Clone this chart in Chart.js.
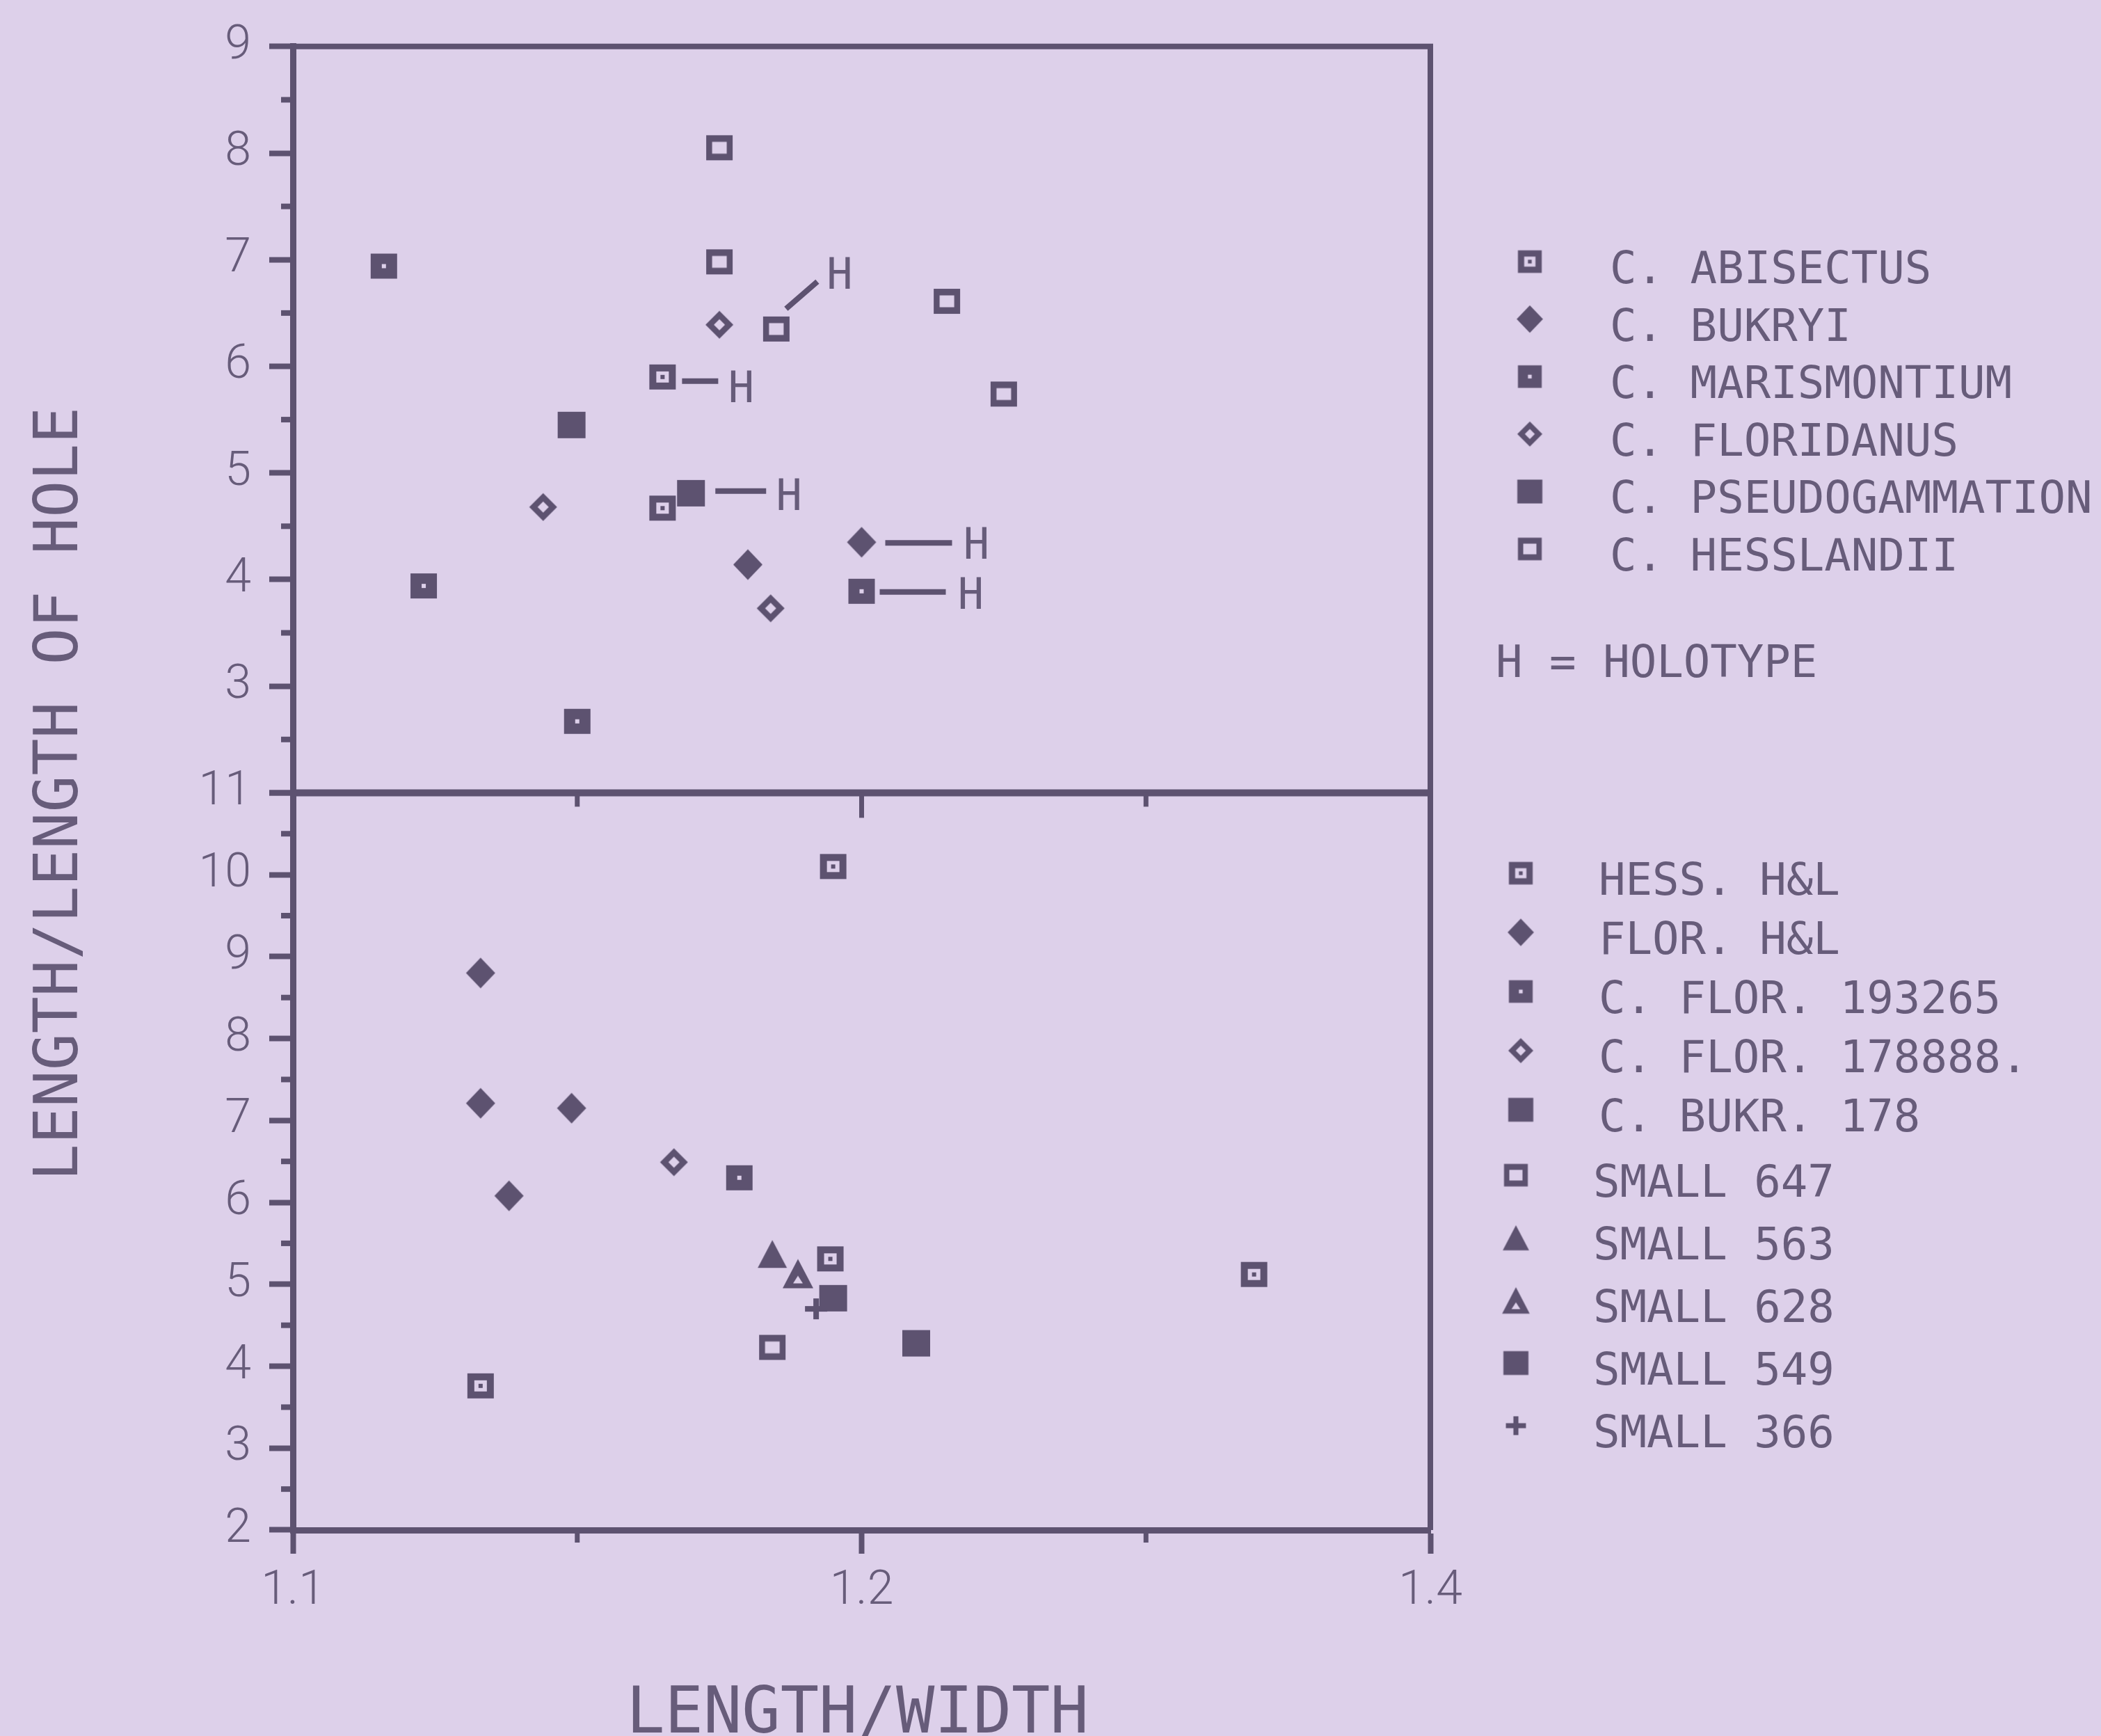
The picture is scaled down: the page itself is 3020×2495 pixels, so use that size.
<!DOCTYPE html>
<html>
<head>
<meta charset="utf-8">
<script src="https://cdn.jsdelivr.net/npm/chart.js@4.4.1/dist/chart.umd.min.js"></script>
<style>
  html, body { margin: 0; padding: 0; background: #ddd0ea; }
  canvas { display: block; }
</style>
</head>
<body>
<canvas id="plot" width="3020" height="2495"></canvas>
<script>
// ---- series names -------------------------------------------------------
const upperSpecies = ['C. ABISECTUS', 'C. BUKRYI', 'C. MARISMONTIUM',
                      'C. FLORIDANUS', 'C. PSEUDOGAMMATION', 'C. HESSLANDII'];
const lowerSamples = ['HESS. H&L', 'FLOR. H&L', 'C. FLOR. 193265', 'C. FLOR. 178888.',
                      'C. BUKR. 178', 'SMALL 647', 'SMALL 563', 'SMALL 628',
                      'SMALL 549', 'SMALL 366'];

// ---- values: [length/width, length/length of hole] -------------------------
// upper panel
const abisectus       = [[1.165, 5.90], [1.165, 4.67]];
const bukryi          = [[1.180, 4.14], [1.200, 4.35]];
const marismontium    = [[1.116, 6.94], [1.123, 3.94], [1.150, 2.67], [1.200, 3.89]];
const floridanus      = [[1.144, 4.68], [1.175, 6.39], [1.184, 3.73]];
const pseudogammation = [[1.149, 5.45], [1.170, 4.81]];
const hesslandii      = [[1.175, 8.05], [1.175, 6.98], [1.185, 6.35], [1.215, 6.61], [1.225, 5.74]];
// lower panel
const hessHL     = [[1.195, 10.10], [1.1945, 5.31], [1.269, 5.12], [1.133, 3.76]];
const florHL     = [[1.133, 8.80], [1.133, 7.21], [1.149, 7.15], [1.138, 6.08]];
const flor193265 = [[1.1785, 6.30]];
const flor178888 = [[1.167, 6.49]];
const bukr178    = [[1.2096, 4.28]];
const small647   = [[1.1843, 4.23]];
const small563   = [[1.1843, 5.37]];
const small628   = [[1.1888, 5.13]];
const small549   = [[1.195, 4.83]];
const small366   = [[1.192, 4.70]];

const upperValues = [abisectus, bukryi, marismontium, floridanus, pseudogammation, hesslandii];
const lowerValues = [hessHL, florHL, flor193265, flor178888, bukr178,
                     small647, small563, small628, small549, small366];

// ---- axes -----------------------------------------------------------------
const xTickValues = [1.1, 1.2, 1.3];
const xTickLabels = ['1.1', '1.2', '1.4'];
const xMinorTicks = [1.15, 1.25];

// holotype specimens (series name, point index)
const holotypes = [
  { name: 'C. ABISECTUS', index: 0 },
  { name: 'C. PSEUDOGAMMATION', index: 1 },
  { name: 'C. BUKRYI', index: 1 },
  { name: 'C. MARISMONTIUM', index: 3 },
  { name: 'C. HESSLANDII', index: 2 }
];

// ---- styling --------------------------------------------------------------
const BG = '#ddd0ea';
const INK = '#5d5270';
const TEXT = '#675c7a';
const MONO = '"DejaVu Sans Mono", monospace';

const markerKind = {
  'C. ABISECTUS': 'boxDot', 'C. BUKRYI': 'diamond', 'C. MARISMONTIUM': 'boxPin',
  'C. FLORIDANUS': 'diamondOpen', 'C. PSEUDOGAMMATION': 'box', 'C. HESSLANDII': 'boxOpen',
  'HESS. H&L': 'boxDot', 'FLOR. H&L': 'diamond', 'C. FLOR. 193265': 'boxPin',
  'C. FLOR. 178888.': 'diamondOpen', 'C. BUKR. 178': 'box', 'SMALL 647': 'boxOpen',
  'SMALL 563': 'triangle', 'SMALL 628': 'triangleOpen', 'SMALL 549': 'box', 'SMALL 366': 'plus'
};

// leader line + "H" placement around each holotype marker, in px: [x0,y0,x1,y1,hx,hy]
const leaderOffsets = [
  [28, 6, 80, 6, 113, 14],
  [35, -3, 108, -3, 141, 2],
  [34, 1, 130, 1, 165, 2],
  [26, 1, 121, 1, 157, 3],
  [14, -29, 59, -68, 91, -80]
];

// legend blocks on the right
const legendBlocks = [
  { names: upperSpecies,             iconX: 2199, textX: 2314, y0: 384,  step: 82.6 },
  { names: lowerSamples.slice(0, 5), iconX: 2186, textX: 2298, y0: 1263, step: 85 },
  { names: lowerSamples.slice(5),    iconX: 2179, textX: 2290, y0: 1697, step: 90 }
];

// draws one marker glyph into its own small canvas
function makeMarker(kind, s) {
  const size = Math.ceil(54 * s);
  const c = document.createElement('canvas');
  c.width = c.height = size;
  const g = c.getContext('2d');
  const m = size / 2;
  const rect = (w, h, col) => {
    g.fillStyle = col;
    g.fillRect(m - (w * s) / 2, m - (h * s) / 2, w * s, h * s);
  };
  const poly = (pts, col) => {
    g.fillStyle = col;
    g.beginPath();
    pts.forEach(([px, py], i) => i ? g.lineTo(m + px * s, m + py * s) : g.moveTo(m + px * s, m + py * s));
    g.closePath();
    g.fill();
  };
  switch (kind) {
    case 'boxDot': rect(38, 36, INK); rect(18, 16, BG); rect(6, 6, INK); break;
    case 'boxOpen': rect(38, 36, INK); rect(21, 17, BG); break;
    case 'boxPin': rect(38, 36, INK); rect(6, 6, BG); break;
    case 'box': rect(40, 38, INK); break;
    case 'diamond': poly([[0, -22], [21, 0], [0, 22], [-21, 0]], INK); break;
    case 'diamondOpen':
      poly([[0, -20], [20, 0], [0, 20], [-20, 0]], INK);
      poly([[0, -8], [8, 0], [0, 8], [-8, 0]], BG);
      break;
    case 'triangle': poly([[0, -20], [21, 20], [-21, 20]], INK); break;
    case 'triangleOpen':
      poly([[0, -21], [22, 21], [-22, 21]], INK);
      poly([[0, 3], [7, 14], [-7, 14]], BG);
      break;
    case 'plus': rect(32, 8, INK); rect(8, 30, INK); break;
  }
  return c;
}

const legendIcons = {};
function buildDataset(name, values, axisId) {
  const kind = markerKind[name];
  legendIcons[name] = makeMarker(kind, 0.9);
  return {
    label: name,
    yAxisID: axisId,
    data: values.map(([x, y]) => ({ x, y })),
    pointStyle: makeMarker(kind, 1),
    pointRadius: 20,
    showLine: false
  };
}

const datasets = [
  ...upperSpecies.map((n, i) => buildDataset(n, upperValues[i], 'yTop')),
  ...lowerSamples.map((n, i) => buildDataset(n, lowerValues[i], 'yBottom'))
];

// frame, minor ticks, holotype leaders, legends and axis titles
const decorations = {
  id: 'decorations',
  beforeDraw(chart) {
    const { ctx, width, height } = chart;
    ctx.save();
    ctx.fillStyle = BG;
    ctx.fillRect(0, 0, width, height);
    ctx.restore();
  },
  beforeDatasetsDraw(chart) {
    const { ctx, chartArea: ca } = chart;
    const yT = chart.scales.yTop, yB = chart.scales.yBottom, x = chart.scales.x;
    ctx.save();
    ctx.strokeStyle = INK;
    ctx.lineCap = 'butt';
    ctx.lineJoin = 'miter';

    // upper panel: top and right edges
    ctx.lineWidth = 8;
    ctx.beginPath();
    ctx.moveTo(ca.left - 4, yT.top);
    ctx.lineTo(ca.right, yT.top);
    ctx.lineTo(ca.right, yB.bottom);
    ctx.stroke();

    // divider between the two panels
    ctx.lineWidth = 10;
    ctx.beginPath();
    ctx.moveTo(ca.left, yB.top);
    ctx.lineTo(ca.right, yB.top);
    ctx.stroke();

    // inward ticks under the divider
    ctx.lineWidth = 7;
    [[1.15, 20], [1.2, 36], [1.25, 20]].forEach(([v, len]) => {
      const px = x.getPixelForValue(v);
      ctx.beginPath();
      ctx.moveTo(px, yB.top);
      ctx.lineTo(px, yB.top + len);
      ctx.stroke();
    });

    // half-unit ticks on both y scales
    ctx.lineWidth = 8;
    const half = (scale) => {
      for (let v = scale.min + 0.5; v < scale.max; v += 1) {
        const py = scale.getPixelForValue(v);
        ctx.beginPath();
        ctx.moveTo(ca.left - 17, py);
        ctx.lineTo(ca.left, py);
        ctx.stroke();
      }
    };
    half(yT);
    half(yB);

    // minor ticks on the x axis
    ctx.lineWidth = 7;
    xMinorTicks.forEach(v => {
      const px = x.getPixelForValue(v);
      ctx.beginPath();
      ctx.moveTo(px, ca.bottom);
      ctx.lineTo(px, ca.bottom + 18);
      ctx.stroke();
    });
    ctx.restore();
  },
  afterDatasetsDraw(chart) {
    const { ctx } = chart;
    ctx.save();
    ctx.strokeStyle = INK;
    ctx.fillStyle = TEXT;
    ctx.lineWidth = 8;
    ctx.font = '62px ' + MONO;
    ctx.textAlign = 'center';
    ctx.textBaseline = 'alphabetic';
    holotypes.forEach((h, i) => {
      const di = chart.data.datasets.findIndex(d => d.label === h.name);
      const pt = chart.getDatasetMeta(di).data[h.index];
      const [x0, y0, x1, y1, hx, hy] = leaderOffsets[i];
      ctx.beginPath();
      ctx.moveTo(pt.x + x0, pt.y + y0);
      ctx.lineTo(pt.x + x1, pt.y + y1);
      ctx.stroke();
      ctx.fillText('H', pt.x + hx, pt.y + hy + 22);
    });
    ctx.restore();
  },
  afterDraw(chart) {
    const { ctx, chartArea: ca } = chart;
    ctx.save();
    ctx.fillStyle = TEXT;
    ctx.textBaseline = 'alphabetic';

    // legends
    ctx.font = '64px ' + MONO;
    ctx.textAlign = 'left';
    legendBlocks.forEach(b => {
      b.names.forEach((name, i) => {
        const cy = b.y0 + i * b.step;
        const icon = legendIcons[name];
        ctx.drawImage(icon, b.iconX - icon.width / 2, cy - 8 - icon.height / 2);
        ctx.fillText(name, b.textX, cy + 23);
      });
    });
    ctx.fillText('H = HOLOTYPE', 2150, 950 + 23);

    // axis titles
    ctx.textAlign = 'center';
    ctx.font = '92px ' + MONO;
    ctx.fillText('LENGTH/WIDTH', (ca.left + ca.right) / 2 - 6, 2490);

    ctx.translate(88, 1141);
    ctx.rotate(-Math.PI / 2);
    ctx.font = '88px ' + MONO;
    ctx.textBaseline = 'middle';
    ctx.fillText('LENGTH/LENGTH OF HOLE', 0, 0);
    ctx.restore();
  }
};

const tickFont = { family: 'Roboto', weight: '300', size: 68 };
const gridStyle = {
  drawOnChartArea: false, drawTicks: true, tickLength: 34, tickWidth: 8, tickColor: INK
};
const borderStyle = { display: true, width: 9, color: INK };

new Chart(document.getElementById('plot'), {
  type: 'scatter',
  data: { datasets },
  options: {
    responsive: false,
    devicePixelRatio: 1,
    animation: false,
    events: [],
    layout: { padding: { top: 60, right: 964, left: 0, bottom: 0 } },
    plugins: { legend: { display: false }, tooltip: { enabled: false } },
    scales: {
      x: {
        type: 'linear', position: 'bottom', min: 1.1, max: 1.3,
        grid: gridStyle, border: borderStyle,
        afterBuildTicks: s => { s.ticks = xTickValues.map(v => ({ value: v })); },
        afterFit: s => { s.height = 296; },
        ticks: {
          color: TEXT, font: tickFont, padding: 14, autoSkip: false, maxRotation: 0,
          callback: (v, i) => xTickLabels[i]
        }
      },
      yBottom: {
        type: 'linear', position: 'left', stack: 'panels', stackWeight: 1063,
        min: 2, max: 11,
        grid: gridStyle, border: borderStyle,
        afterFit: s => { s.width = 421; },
        ticks: { stepSize: 1, color: TEXT, font: tickFont, padding: 26, autoSkip: false }
      },
      yTop: {
        type: 'linear', position: 'left', stack: 'panels', stackWeight: 1076,
        min: 2, max: 9,
        grid: gridStyle, border: borderStyle,
        afterFit: s => { s.width = 421; },
        ticks: {
          stepSize: 1, color: TEXT, font: tickFont, padding: 26, autoSkip: false,
          callback: v => (v === 2 ? '' : String(v))
        }
      }
    }
  },
  plugins: [decorations]
});
</script>
</body>
</html>
